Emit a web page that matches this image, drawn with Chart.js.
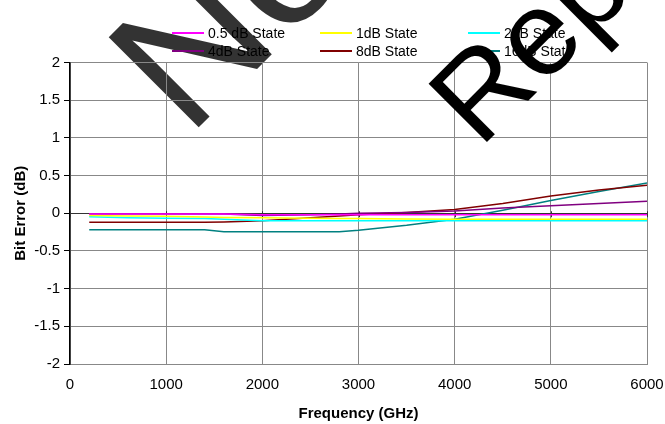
<!DOCTYPE html>
<html>
<head>
<meta charset="utf-8">
<script src="https://cdn.jsdelivr.net/npm/chart.js@4/dist/chart.umd.min.js"></script>
<style>
  html, body { margin: 0; padding: 0; background: #fff; }
  #wrap { width: 665px; height: 424px; }
</style>
</head>
<body>
<div id="wrap"><canvas id="bit-error-chart" width="665" height="424"></canvas></div>
<script>
const frequencies = [200, 600, 1000, 1400, 1600, 2000, 2500, 2800, 3000, 3500, 4000, 4500, 5000, 5500, 6000];

const state_labels = ["0.5 dB State", "1dB State", "2dB State", "4dB State", "8dB State", "16dB State"];
const state_colors = ["#FF00FF", "#FFFF00", "#00FFFF", "#800080", "#800000", "#008080"];

const state_05 = [-0.01, -0.01, -0.01, -0.01, -0.01, -0.02, -0.02, -0.02, -0.02, -0.02, -0.02, -0.02, -0.02, -0.02, -0.02];
const state_1 = [-0.03, -0.035, -0.04, -0.05, -0.055, -0.06, -0.065, -0.07, -0.07, -0.075, -0.08, -0.08, -0.08, -0.08, -0.08];
const state_2 = [-0.045, -0.06, -0.065, -0.07, -0.08, -0.1, -0.1, -0.1, -0.1, -0.1, -0.1, -0.1, -0.1, -0.1, -0.1];
const state_4 = [-0.01, -0.01, -0.01, -0.01, -0.01, -0.03, -0.02, -0.01, 0, 0.01, 0.03, 0.07, 0.10, 0.13, 0.16];
const state_8 = [-0.12, -0.12, -0.12, -0.12, -0.115, -0.1, -0.06, -0.035, -0.02, 0.01, 0.05, 0.13, 0.23, 0.31, 0.37];
const state_16 = [-0.22, -0.22, -0.22, -0.22, -0.245, -0.245, -0.245, -0.245, -0.225, -0.16, -0.08, 0.04, 0.17, 0.29, 0.40];

const x_ticks = [0, 1000, 2000, 3000, 4000, 5000, 6000];
const y_ticks = [-2, -1.5, -1, -0.5, 0, 0.5, 1, 1.5, 2];

const watermark_left = "Not Recommended for New Designs";
const watermark_right = "Replaced by";

const font_name = '"Liberation Sans", Arial, sans-serif';

const series = [state_05, state_1, state_2, state_4, state_8, state_16];

const datasets = series.map((values, i) => ({
    label: state_labels[i],
    data: values.map((v, j) => ({ x: frequencies[j], y: v })),
    borderColor: state_colors[i],
    backgroundColor: state_colors[i],
    borderWidth: 1.5,
    pointRadius: 0,
    tension: 0,
    fill: false
}));

// legend in two rows of three, like the Excel one
const legend_plugin =
{
    id: 'grid_legend',
    afterDatasetsDraw: (chart) =>
    {
        const ctx = chart.ctx;
        const cols = [172, 320, 468];
        const rows = [33, 51];
        ctx.save();
        ctx.font = '14px ' + font_name;
        ctx.textBaseline = 'middle';
        chart.data.datasets.forEach((ds, i) =>
        {
            const x = cols[i % 3];
            const y = rows[Math.floor(i / 3)];
            ctx.strokeStyle = ds.borderColor;
            ctx.lineWidth = 2;
            ctx.beginPath();
            ctx.moveTo(x, y);
            ctx.lineTo(x + 32, y);
            ctx.stroke();
            ctx.fillStyle = '#000';
            ctx.fillText(ds.label, x + 36, y + 1);
        });
        ctx.restore();
    }
};

// tick marks on the horizontal axis that crosses at zero
const zero_axis_plugin =
{
    id: 'zero_axis_ticks',
    beforeDatasetsDraw: (chart) =>
    {
        const ctx = chart.ctx;
        const xs = chart.scales.x;
        const y0 = chart.scales.y.getPixelForValue(0);
        ctx.save();
        ctx.strokeStyle = '#333';
        ctx.lineWidth = 1;
        x_ticks.forEach((v) =>
        {
            const px = Math.round(xs.getPixelForValue(v)) + 0.5;
            ctx.beginPath();
            ctx.moveTo(px, y0 - 2);
            ctx.lineTo(px, y0 + 4);
            ctx.stroke();
        });
        ctx.restore();
    }
};

// grey stamp sits under the chart, black one on top
const watermark_plugin =
{
    id: 'watermark',
    beforeDraw: (chart) =>
    {
        const ctx = chart.ctx;
        ctx.save();
        ctx.translate(188, 138);
        ctx.rotate(-Math.PI / 4);
        ctx.font = '185px ' + font_name;
        ctx.fillStyle = '#333';
        ctx.fillText(watermark_left, 0, 0);
        ctx.restore();
    },
    afterDraw: (chart) =>
    {
        const ctx = chart.ctx;
        ctx.save();
        ctx.translate(480, 149);
        ctx.rotate(-Math.PI / 4);
        ctx.font = '120px ' + font_name;
        ctx.fillStyle = '#000';
        ctx.fillText(watermark_right, 0, 0);
        ctx.restore();
    }
};

const config =
{
    type: 'line',
    data: { datasets: datasets },
    plugins: [watermark_plugin, zero_axis_plugin, legend_plugin],
    options:
    {
        responsive: false,
        animation: false,
        layout: { padding: { top: 62.5, right: 18, bottom: 0, left: 0 } },
        plugins:
        {
            legend: { display: false },
            title: { display: false },
            tooltip: { enabled: false }
        },
        scales:
        {
            x:
            {
                type: 'linear',
                min: 0,
                max: 6000,
                afterBuildTicks: (scale) => { scale.ticks = x_ticks.map(v => ({ value: v })); },
                afterFit: (scale) =>
                {
                    scale.height = 60;
                    scale.paddingLeft = 0;
                    scale.paddingRight = 0;
                },
                ticks:
                {
                    color: '#000',
                    font: { family: font_name, size: 15 },
                    padding: 12,
                    maxRotation: 0,
                    callback: (value) => String(value)
                },
                grid: { color: '#888', drawTicks: false },
                border: { color: '#888' },
                title:
                {
                    display: true,
                    text: 'Frequency (GHz)',
                    color: '#000',
                    font: { family: font_name, size: 15, weight: 'bold' },
                    padding: { top: 0, bottom: 1 }
                }
            },
            y:
            {
                min: -2,
                max: 2,
                afterBuildTicks: (scale) => { scale.ticks = y_ticks.map(v => ({ value: v })); },
                afterFit: (scale) =>
                {
                    scale.width = 70;
                    scale.paddingTop = 0;
                    scale.paddingBottom = 0;
                },
                ticks:
                {
                    color: '#000',
                    font: { family: font_name, size: 15 },
                    padding: 4,
                    callback: (value) => String(value)
                },
                grid:
                {
                    color: (ctx) => (ctx.tick && ctx.tick.value === 0 ? '#333' : '#888'),
                    tickColor: '#000',
                    tickLength: 6
                },
                border: { color: '#000', width: 1.5 },
                title:
                {
                    display: true,
                    text: 'Bit Error (dB)',
                    color: '#000',
                    font: { family: font_name, size: 15, weight: 'bold' },
                    padding: { top: 12, bottom: 0 }
                }
            }
        }
    }
};

const bit_error_chart = new Chart(document.getElementById('bit-error-chart'), config);
</script>
</body>
</html>
